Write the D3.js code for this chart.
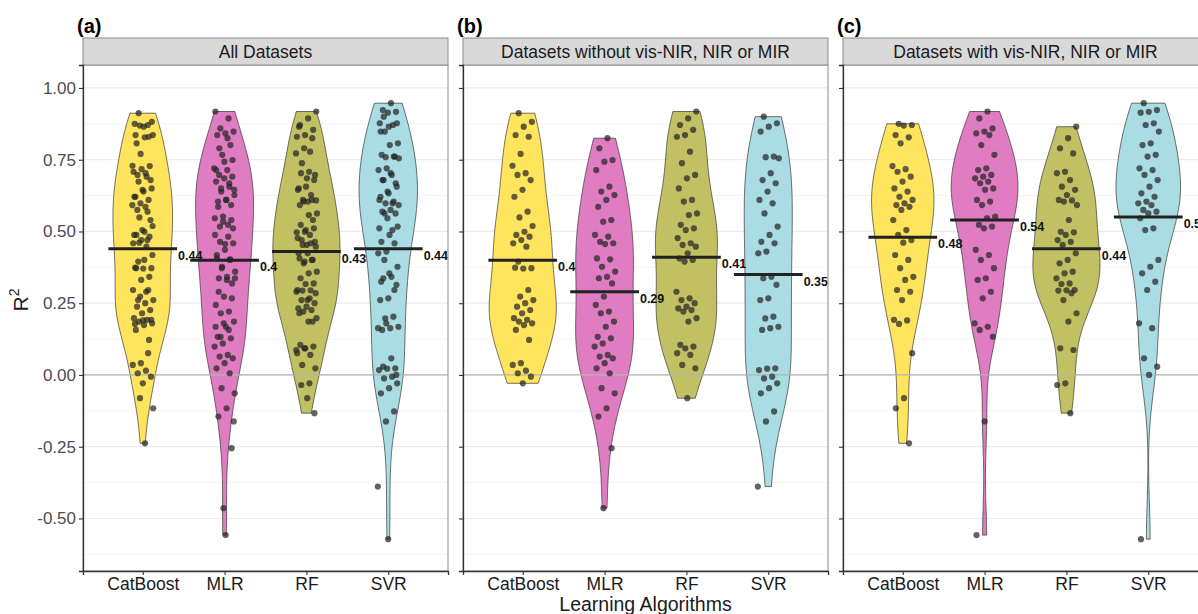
<!DOCTYPE html>
<html>
<head>
<meta charset="utf-8">
<script src="https://cdn.jsdelivr.net/npm/d3@7"></script>
<style>
  body { margin: 0; background: #fff; }
  svg { font-family: "Liberation Sans", Arial, sans-serif; }
</style>
</head>
<body>
<div id="chart"></div>
<script>
const algorithms = ["CatBoost", "MLR", "RF", "SVR"];
const panelTags = ["(a)", "(b)", "(c)"];
const panelTitles = ["All Datasets", "Datasets without vis-NIR, NIR or MIR", "Datasets with vis-NIR, NIR or MIR"];
const yTicks = [-0.5, -0.25, 0, 0.25, 0.5, 0.75, 1];
const fills = ["#ffe45e", "#e07cc1", "#c1c163", "#a9dce3"];

// R2 values, datasets without vis-NIR, NIR or MIR
const catboostWithout = [0.912, 0.882, 0.865, 0.836, 0.830, 0.770, 0.729, 0.703, 0.697, 0.679, 0.645, 0.621, 0.569, 0.549, 0.519, 0.499, 0.488, 0.482, 0.470, 0.459, 0.447, 0.395, 0.372, 0.371, 0.374, 0.296, 0.273, 0.261, 0.250, 0.238, 0.226, 0.215, 0.198, 0.192, 0.186, 0.180, 0.174, 0.157, 0.122, 0.041, 0.035, 0.015, 0.006, -0.006, -0.029];
const mlrWithout = [0.825, 0.790, 0.749, 0.743, 0.714, 0.656, 0.639, 0.627, 0.610, 0.586, 0.540, 0.534, 0.488, 0.482, 0.464, 0.459, 0.456, 0.406, 0.403, 0.377, 0.360, 0.342, 0.337, 0.319, 0.273, 0.244, 0.221, 0.215, 0.186, 0.168, 0.133, 0.128, 0.110, 0.099, 0.070, 0.064, 0.058, 0.041, 0.023, 0.006, -0.046, -0.064, -0.116, -0.145, -0.255, -0.464];
const rfWithout = [0.918, 0.894, 0.871, 0.854, 0.836, 0.830, 0.778, 0.738, 0.697, 0.685, 0.650, 0.610, 0.604, 0.563, 0.557, 0.523, 0.511, 0.505, 0.477, 0.459, 0.453, 0.447, 0.424, 0.406, 0.401, 0.395, 0.290, 0.267, 0.261, 0.250, 0.238, 0.232, 0.226, 0.221, 0.198, 0.186, 0.105, 0.099, 0.093, 0.076, 0.070, 0.035, 0.023, -0.081];
const svrWithout = [0.900, 0.877, 0.865, 0.848, 0.761, 0.759, 0.755, 0.703, 0.679, 0.668, 0.639, 0.610, 0.598, 0.563, 0.517, 0.488, 0.464, 0.459, 0.430, 0.424, 0.342, 0.337, 0.314, 0.267, 0.261, 0.203, 0.197, 0.168, 0.163, 0.157, 0.023, 0.022, 0.017, -0.006, -0.012, -0.029, -0.046, -0.064, -0.127, -0.162, -0.389];

// R2 values, datasets with vis-NIR, NIR or MIR
const catboostWith = [0.875, 0.871, 0.869, 0.836, 0.828, 0.807, 0.728, 0.717, 0.708, 0.691, 0.674, 0.650, 0.639, 0.621, 0.610, 0.598, 0.592, 0.586, 0.575, 0.540, 0.505, 0.488, 0.470, 0.461, 0.418, 0.401, 0.372, 0.342, 0.331, 0.296, 0.290, 0.261, 0.192, 0.190, 0.178, 0.076, -0.081, -0.116, -0.238];
const mlrWith = [0.918, 0.894, 0.859, 0.848, 0.842, 0.836, 0.801, 0.767, 0.720, 0.714, 0.697, 0.691, 0.685, 0.674, 0.668, 0.650, 0.645, 0.610, 0.604, 0.592, 0.552, 0.546, 0.523, 0.517, 0.511, 0.436, 0.418, 0.401, 0.372, 0.337, 0.331, 0.290, 0.267, 0.180, 0.168, 0.157, 0.133, -0.162, -0.558];
const rfWith = [0.865, 0.825, 0.790, 0.772, 0.708, 0.703, 0.679, 0.656, 0.645, 0.627, 0.610, 0.608, 0.604, 0.592, 0.540, 0.499, 0.497, 0.488, 0.470, 0.464, 0.453, 0.424, 0.401, 0.389, 0.360, 0.354, 0.337, 0.319, 0.317, 0.296, 0.295, 0.294, 0.285, 0.261, 0.215, 0.186, 0.093, 0.087, -0.029, -0.035, -0.133];
const svrWith = [0.947, 0.923, 0.917, 0.914, 0.877, 0.871, 0.848, 0.807, 0.801, 0.767, 0.761, 0.720, 0.714, 0.697, 0.679, 0.656, 0.633, 0.621, 0.604, 0.598, 0.592, 0.575, 0.569, 0.563, 0.546, 0.511, 0.505, 0.401, 0.377, 0.354, 0.325, 0.296, 0.180, 0.163, 0.058, 0.029, 0.000, -0.572];

// summary values printed next to each bar line
const medianAll = [0.44, 0.40, 0.43, 0.44];
const medianWithout = [0.40, 0.29, 0.41, 0.35];
const medianWith = [0.48, 0.54, 0.44, 0.55];

const without = [catboostWithout, mlrWithout, rfWithout, svrWithout];
const withSpec = [catboostWith, mlrWith, rfWith, svrWith];
const all = without.map((d, i) => d.concat(withSpec[i]));
const panels = [
  { groups: all, medians: medianAll },
  { groups: without, medians: medianWithout },
  { groups: withSpec, medians: medianWith }
];

const width = 1198, height = 614;
const panelLeft = [83, 463, 843];
const panelW = 365, panelTop = 65, panelBottom = 571, stripTop = 38;

const svg = d3.select("#chart").append("svg")
  .attr("width", width)
  .attr("height", height);

svg.append("rect").attr("width", width).attr("height", height).attr("fill", "#fff");

const y = d3.scaleLinear().domain([-0.683, 1.08]).range([panelBottom, panelTop]);
const fmt2 = d3.format(".2f");
const yFormat = d => fmt2(d).replace("\u2212", "-");

// gaussian kde, bandwidth like R's nrd0
function kde(values) {
  const v = values.slice().sort(d3.ascending);
  const n = v.length;
  const sd = d3.deviation(v);
  const iqr = d3.quantileSorted(v, 0.75) - d3.quantileSorted(v, 0.25);
  const bw = 0.9 * Math.min(sd, iqr / 1.34) * Math.pow(n, -0.2);
  const lo = v[0], hi = v[n - 1];
  const pts = d3.range(200).map(k => {
    const t = lo + (hi - lo) * k / 199;
    const dens = d3.sum(v, x => Math.exp(-0.5 * ((t - x) / bw) ** 2)) / (n * bw * Math.sqrt(2 * Math.PI));
    return { t, dens };
  });
  return pts;
}

const jitter = i => ((i * 0.6180339887 + 0.31) % 1 - 0.5) * 2;

panels.forEach((p, pi) => {
  const left = panelLeft[pi];
  const x = d3.scalePoint().domain(algorithms).range([left, left + panelW]).padding(0.73);
  const step = x.step();
  const g = svg.append("g");

  // grid
  const minor = d3.range(-0.625, 1.0, 0.25);
  g.selectAll(".minor").data(minor).join("line")
    .attr("x1", left).attr("x2", left + panelW)
    .attr("y1", d => y(d)).attr("y2", d => y(d))
    .attr("stroke", "#f2f2f2").attr("stroke-width", 0.8);
  g.selectAll(".major").data(yTicks).join("line")
    .attr("x1", left).attr("x2", left + panelW)
    .attr("y1", d => y(d)).attr("y2", d => y(d))
    .attr("stroke", "#ebebeb").attr("stroke-width", 1.2);

  // violins
  const dens = p.groups.map(kde);
  const maxD = d3.max(dens, d => d3.max(d, e => e.dens));
  const half = 0.41 * step;
  dens.forEach((d, gi) => {
    const cx = x(algorithms[gi]);
    const area = d3.area()
      .y(e => y(e.t))
      .x0(e => cx - e.dens / maxD * half)
      .x1(e => cx + e.dens / maxD * half);
    g.append("path").datum(d)
      .attr("d", area)
      .attr("fill", fills[gi])
      .attr("stroke", "#333")
      .attr("stroke-width", 0.7);
  });

  // zero line
  g.append("line")
    .attr("x1", left).attr("x2", left + panelW)
    .attr("y1", y(0)).attr("y2", y(0))
    .attr("stroke", "#b3b3b3").attr("stroke-width", 1.2);

  // jittered points
  p.groups.forEach((vals, gi) => {
    const cx = x(algorithms[gi]);
    g.selectAll(null).data(vals).join("circle")
      .attr("cx", (d, i) => cx + jitter(i + gi * 7) * 0.13 * step)
      .attr("cy", d => y(d))
      .attr("r", 3.1)
      .attr("fill", "#262626")
      .attr("fill-opacity", 0.72);
  });

  // summary lines + labels
  p.medians.forEach((m, gi) => {
    const cx = x(algorithms[gi]);
    g.append("line")
      .attr("x1", cx - 0.42 * step).attr("x2", cx + 0.42 * step)
      .attr("y1", y(m)).attr("y2", y(m))
      .attr("stroke", "#222").attr("stroke-width", 3);
    g.append("text")
      .attr("x", cx + 0.42 * step + 1)
      .attr("y", y(m) + 11)
      .attr("font-size", 12.5)
      .attr("font-weight", "bold")
      .attr("fill", "#111")
      .text(String(+m.toFixed(2)));
  });

  // panel border
  g.append("rect")
    .attr("x", left).attr("y", panelTop)
    .attr("width", panelW).attr("height", panelBottom - panelTop)
    .attr("fill", "none").attr("stroke", "#8c8c8c").attr("stroke-width", 1);

  // strip
  g.append("rect")
    .attr("x", left).attr("y", stripTop)
    .attr("width", panelW).attr("height", panelTop - stripTop)
    .attr("fill", "#d9d9d9").attr("stroke", "#8c8c8c").attr("stroke-width", 1);
  g.append("text")
    .attr("x", left + panelW / 2).attr("y", stripTop + 19.5)
    .attr("text-anchor", "middle")
    .attr("font-size", 17.5)
    .attr("fill", "#1a1a1a")
    .text(panelTitles[pi]);

  // tag
  g.append("text")
    .attr("x", left - 6).attr("y", 33)
    .attr("font-size", 20)
    .attr("font-weight", "bold")
    .attr("fill", "#000")
    .text(panelTags[pi]);

  // axes
  const yAxis = d3.axisLeft(y).tickValues(yTicks).tickSize(4).tickPadding(3)
    .tickFormat(pi === 0 ? yFormat : () => "");
  const ya = g.append("g").attr("transform", `translate(${left},0)`).call(yAxis);
  ya.select(".domain").attr("stroke", "#333").attr("stroke-width", 1.3);
  ya.selectAll(".tick line").attr("stroke", "#333").attr("stroke-width", 1.1);
  ya.selectAll(".tick text").attr("font-size", 17).attr("fill", "#4d4d4d")
    .attr("font-family", "Liberation Sans, Arial, sans-serif");

  const xAxis = d3.axisBottom(x).tickSize(4).tickPadding(3);
  const xa = g.append("g").attr("transform", `translate(0,${panelBottom})`).call(xAxis);
  xa.select(".domain").attr("stroke", "#333").attr("stroke-width", 1.3);
  xa.selectAll(".tick line").attr("stroke", "#333").attr("stroke-width", 1.1);
  xa.selectAll(".tick text").attr("font-size", 17.5).attr("fill", "#1a1a1a")
    .attr("font-family", "Liberation Sans, Arial, sans-serif");
});

// axis titles
svg.append("text")
  .attr("x", panelLeft[1] + panelW / 2).attr("y", 611)
  .attr("text-anchor", "middle")
  .attr("font-size", 19.5)
  .attr("fill", "#1a1a1a")
  .text("Learning Algorithms");

const yt = svg.append("text")
  .attr("transform", "translate(28,300) rotate(-90)")
  .attr("text-anchor", "middle")
  .attr("font-size", 21)
  .attr("fill", "#1a1a1a");
yt.append("tspan").text("R");
yt.append("tspan").attr("font-size", 14).attr("dy", -9).text("2");
</script>
</body>
</html>
